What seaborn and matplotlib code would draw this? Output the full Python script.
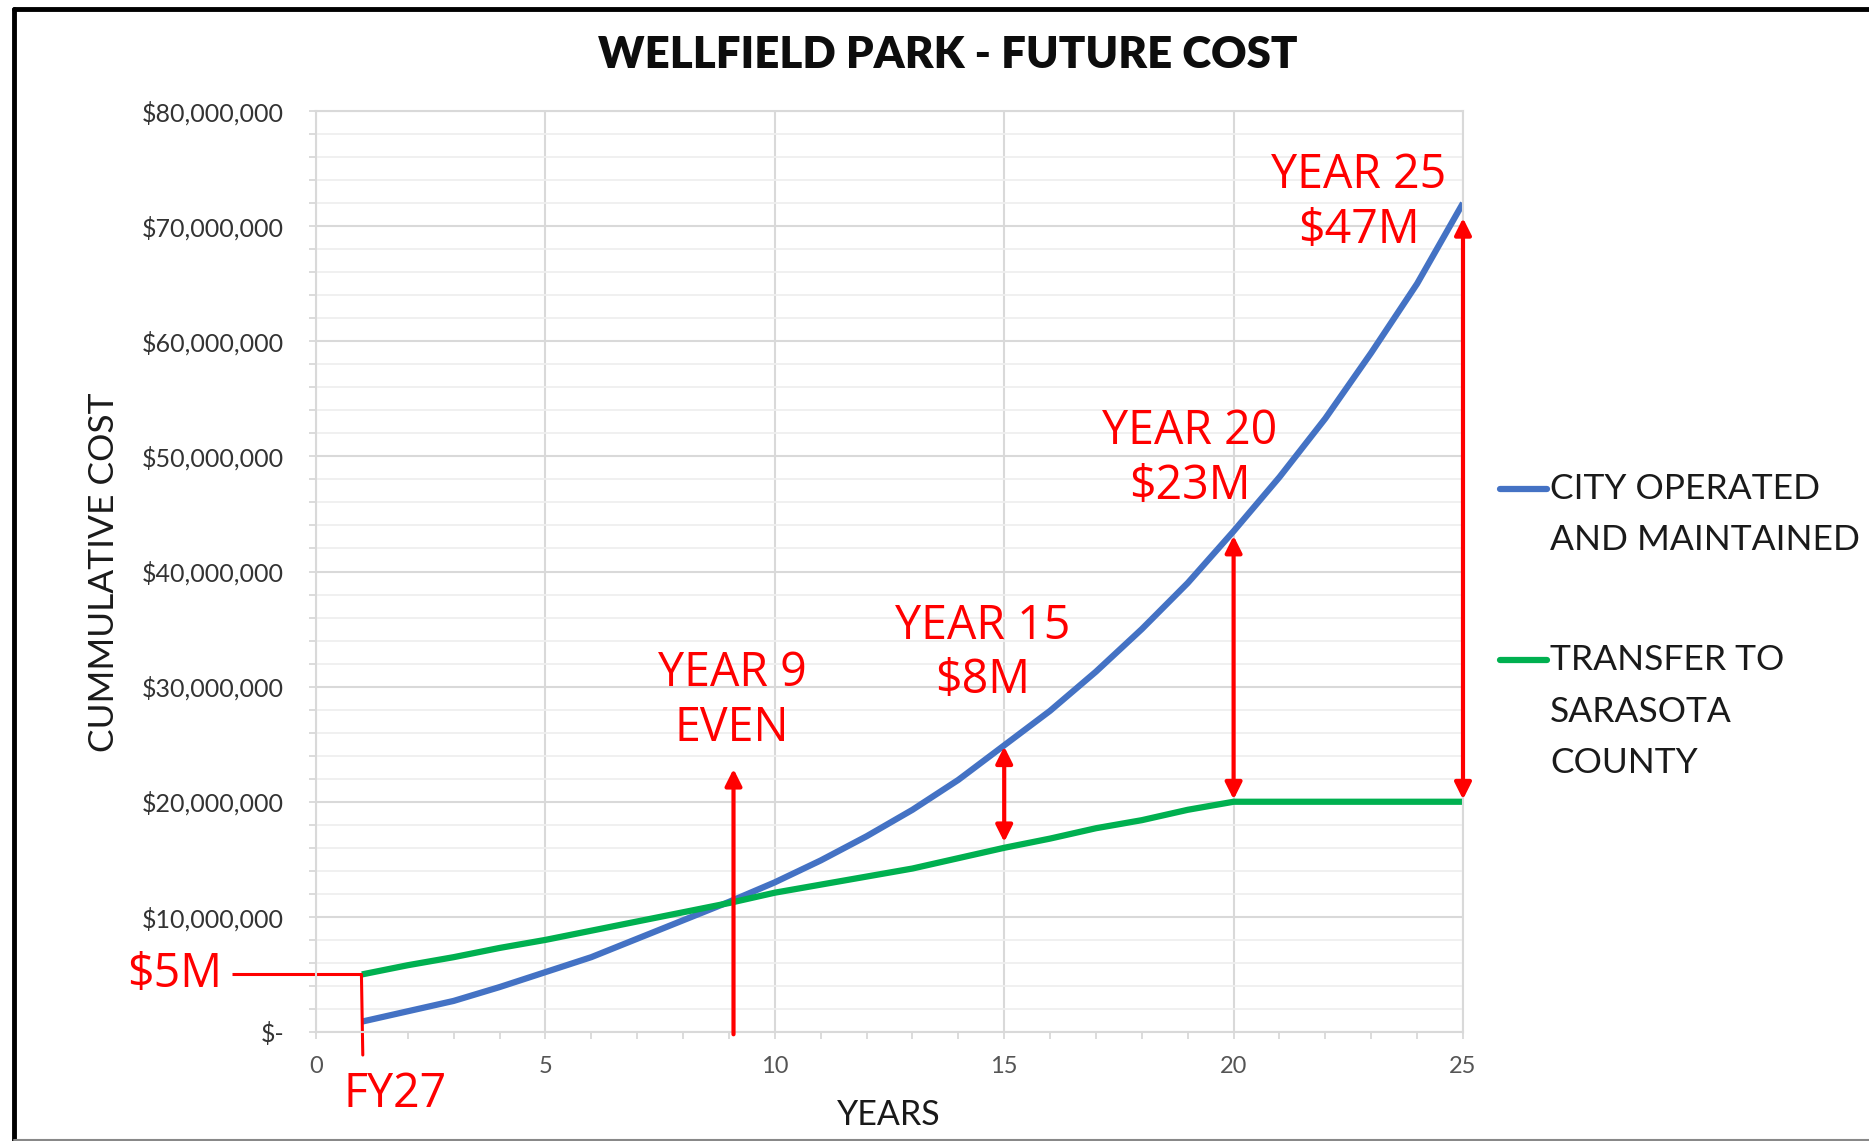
import numpy as np
import pandas as pd
import matplotlib
matplotlib.use("Agg")
import matplotlib.pyplot as plt
import seaborn as sns
from matplotlib.ticker import FixedLocator, MultipleLocator, FuncFormatter
from matplotlib.lines import Line2D

# ---------------- data (values in $ millions) ----------------
years = list(range(1, 26))
city_cost = [0.9, 1.8, 2.7, 3.9, 5.2, 6.5, 8.1, 9.7, 11.3, 13.0, 14.9, 17.0, 19.3,
             21.9, 24.9, 27.9, 31.3, 35.0, 39.0, 43.5, 48.2, 53.3, 59.0, 65.0, 72.0]
county_cost = [5.0, 5.8, 6.5, 7.3, 8.0, 8.8, 9.6, 10.4, 11.2, 12.1, 12.8, 13.5, 14.2,
               15.1, 16.0, 16.8, 17.7, 18.4, 19.3, 20.0, 20.0, 20.0, 20.0, 20.0, 20.0]
series_names = ["CITY OPERATED AND MAINTAINED", "TRANSFER TO SARASOTA COUNTY"]
legend_lines = [["CITY OPERATED", "AND MAINTAINED"], ["TRANSFER TO", "SARASOTA", "COUNTY"]]
series_colors = ["#4472C4", "#00B050"]

x_ticks = [0, 5, 10, 15, 20, 25]
y_ticks_m = [0, 10, 20, 30, 40, 50, 60, 70, 80]

title = "WELLFIELD PARK - FUTURE COST"
x_label = "YEARS"
y_label = "CUMMULATIVE COST"

# annotations
gap_years = [15, 20, 25]
gap_low = [16.5, 20.2, 20.2]
gap_high = [24.8, 43.1, 70.7]
gap_labels = ["YEAR 15\n$8M", "YEAR 20\n$23M", "YEAR 25\n$47M"]
gap_label_x = [14.54, 19.05, 22.73]
gap_label_y = [32.9, 49.8, 72.0]
even_year = 9.1
even_top = 22.85
even_label = "YEAR 9\nEVEN"
even_label_pos = (9.07, 28.8)
start_label = "$5M"
start_value = 5.0
start_year = 1
fy_label = "FY27"

M = 1e6
df = pd.DataFrame({
    "year": years * 2,
    "cost": [v * M for v in city_cost] + [v * M for v in county_cost],
    "series": [series_names[0]] * len(years) + [series_names[1]] * len(years),
})

# ---------------- figure ----------------
sns.set_theme(style="white")
plt.rcParams["font.family"] = ["Lato", "DejaVu Sans"]

W, H = 1869, 1141
fig = plt.figure(figsize=(W / 100, H / 100), dpi=100)
ax = fig.add_axes([316 / W, 1 - 1032 / H, (1463 - 316) / W, (1032 - 111) / H])

sns.lineplot(data=df, x="year", y="cost", hue="series", palette=series_colors,
             linewidth=4.5, ax=ax, legend=False)
for ln in ax.get_lines():
    ln.set_solid_capstyle("butt")

ax.set_xlim(0, 25)
ax.set_ylim(0, 80 * M)
ax.xaxis.set_major_locator(FixedLocator(x_ticks))
ax.xaxis.set_minor_locator(MultipleLocator(1))
ax.yaxis.set_major_locator(FixedLocator([v * M for v in y_ticks_m]))
ax.yaxis.set_minor_locator(MultipleLocator(2 * M))


def money(v, pos):
    if abs(v) < 1:
        return "$-"
    return "${:,.0f}".format(v)


ax.yaxis.set_major_formatter(FuncFormatter(money))
ax.grid(True, which="major", axis="both", color="#d9d9d9", linewidth=1.5)
ax.grid(True, which="minor", axis="y", color="#efefef", linewidth=1.3)
ax.set_axisbelow(True)
for s in ax.spines.values():
    s.set_visible(True)
    s.set_color("#d9d9d9")
    s.set_linewidth(1.5)
ax.tick_params(axis="y", which="both", left=True, length=5, color="#d9d9d9",
               width=1.3, labelsize=18, labelcolor="#333333", pad=18)
ax.tick_params(axis="x", which="both", bottom=True, length=5, color="#d9d9d9",
               width=1.3, labelsize=17, labelcolor="#555555", pad=12)
ax.set_xlabel("")
ax.set_ylabel("")

# titles
fig.text(948 / W, 1 - 55 / H, title, ha="center", va="center", fontsize=31.5,
         fontweight="heavy", color="#0d0d0d")
fig.text(104 / W, 1 - 572 / H, y_label, rotation=90, ha="center", va="center",
         fontsize=25.5, color="#1a1a1a")
fig.text(889 / W, 1 - 1115 / H, x_label, ha="center", va="center",
         fontsize=24.5, color="#1a1a1a")

# legend (manual)
leg_y = [[489, 540], [660, 712, 763]]
for i in range(2):
    y0 = 1 - leg_y[i][0] / H
    fig.add_artist(Line2D([1500 / W, 1547 / W], [y0, y0], color=series_colors[i],
                          linewidth=4.5, solid_capstyle="round"))
    for j, t in enumerate(legend_lines[i]):
        fig.text(1550 / W, 1 - leg_y[i][j] / H, t, ha="left", va="center",
                 fontsize=25.5, color="#1a1a1a")

# red annotations
red = "#FF0000"
rfont = dict(family=["Open Sans", "DejaVu Sans"], fontsize=33.5, color=red)
arrow_both = dict(arrowstyle="<|-|>,head_length=0.5,head_width=0.25", color=red,
                  lw=3, shrinkA=0, shrinkB=0, mutation_scale=20)
arrow_up = dict(arrowstyle="-|>,head_length=0.5,head_width=0.25", color=red,
                lw=3, shrinkA=0, shrinkB=0, mutation_scale=20)
for gx, lo, hi, lab, lx, ly in zip(gap_years, gap_low, gap_high, gap_labels,
                                   gap_label_x, gap_label_y):
    ax.annotate("", xy=(gx, hi * M), xytext=(gx, lo * M), arrowprops=arrow_both,
                annotation_clip=False)
    ax.text(lx, ly * M, lab, ha="center", va="center", linespacing=1.2, **rfont)

ax.annotate("", xy=(even_year, even_top * M), xytext=(even_year, -0.2 * M),
            arrowprops=arrow_up, annotation_clip=False)
ax.text(even_label_pos[0], even_label_pos[1] * M, even_label, ha="center",
        va="center", linespacing=1.2, **rfont)

# $5M bracket
ax.plot([-1.82, start_year - 0.01], [start_value * M, start_value * M], color=red,
        lw=2.2, clip_on=False, solid_capstyle="butt")
ax.plot([start_year - 0.01, start_year + 0.02], [start_value * M, -2.0 * M],
        color=red, lw=2.2, clip_on=False)
ax.text(-2.05, start_value * M, start_label, ha="right", va="center", **rfont)
ax.text(1.72, -5.4 * M, fy_label, ha="center", va="center", **rfont)

# worksheet frame
fig.add_artist(Line2D([14 / W, 14 / W], [0, 1 - 9 / H], color="black", lw=3.5))
fig.add_artist(Line2D([14 / W, 1], [1 - 9 / H, 1 - 9 / H], color="black", lw=3.5))
fig.add_artist(Line2D([14 / W, 1], [1.5 / H, 1.5 / H], color="#888888", lw=1.5))

fig.savefig("out.png", dpi=100, facecolor="white")
